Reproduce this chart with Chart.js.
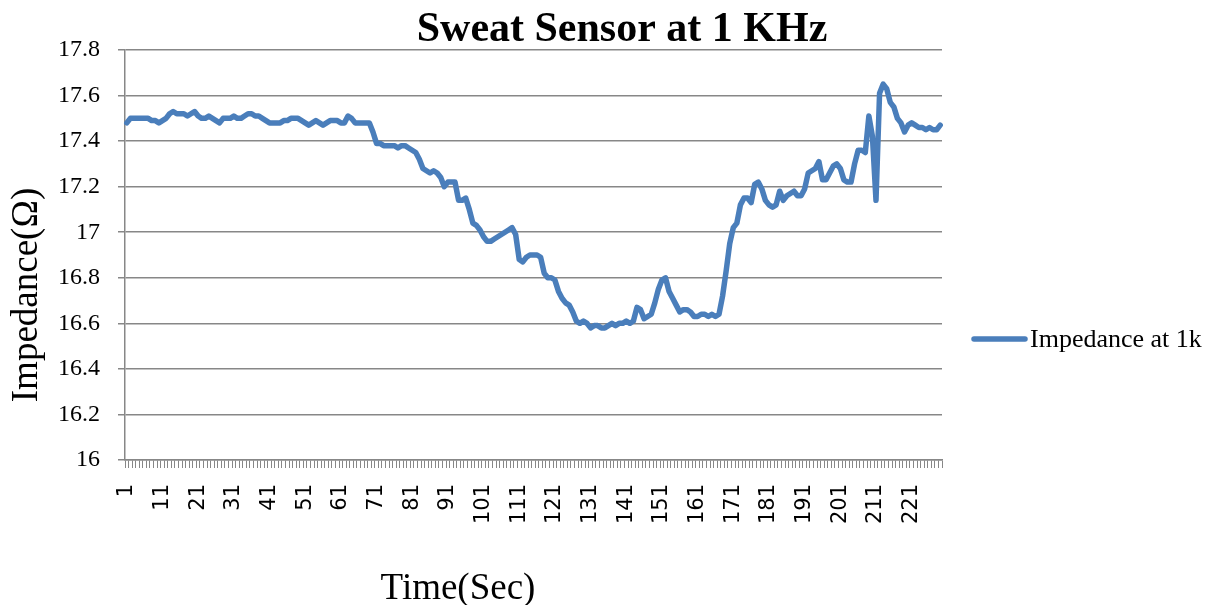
<!DOCTYPE html>
<html>
<head>
<meta charset="utf-8">
<script src="https://cdn.jsdelivr.net/npm/chart.js@4/dist/chart.umd.min.js"></script>
<style>
  html, body { margin: 0; padding: 0; background: #fff; }
  #wrap { width: 1217px; height: 605px; }
</style>
</head>
<body>
<div id="wrap"><canvas id="myChart" width="1217" height="605"></canvas></div>
<script>
// impedance readings, one per second
var impedance = [
  17.48,17.50,17.50,17.50,17.50,17.50,17.50,17.49,17.49,17.48,
  17.49,17.50,17.52,17.53,17.52,17.52,17.52,17.51,17.52,17.53,
  17.51,17.50,17.50,17.51,17.50,17.49,17.48,17.50,17.50,17.50,
  17.51,17.50,17.50,17.51,17.52,17.52,17.51,17.51,17.50,17.49,
  17.48,17.48,17.48,17.48,17.49,17.49,17.50,17.50,17.50,17.49,
  17.48,17.47,17.48,17.49,17.48,17.47,17.48,17.49,17.49,17.49,
  17.48,17.48,17.51,17.50,17.48,17.48,17.48,17.48,17.48,17.44,
  17.39,17.39,17.38,17.38,17.38,17.38,17.37,17.38,17.38,17.37,
  17.36,17.35,17.32,17.28,17.27,17.26,17.27,17.26,17.24,17.20,
  17.22,17.22,17.22,17.14,17.14,17.15,17.10,17.04,17.03,17.01,
  16.98,16.96,16.96,16.97,16.98,16.99,17.00,17.01,17.02,16.99,
  16.88,16.87,16.89,16.90,16.90,16.90,16.89,16.82,16.80,16.80,
  16.79,16.74,16.71,16.69,16.68,16.65,16.61,16.60,16.61,16.60,
  16.58,16.59,16.59,16.58,16.58,16.59,16.60,16.59,16.60,16.60,
  16.61,16.60,16.61,16.67,16.66,16.62,16.63,16.64,16.69,16.75,
  16.79,16.80,16.74,16.71,16.68,16.65,16.66,16.66,16.65,16.63,
  16.63,16.64,16.64,16.63,16.64,16.63,16.64,16.72,16.83,16.95,
  17.02,17.04,17.12,17.15,17.15,17.13,17.21,17.22,17.19,17.14,
  17.12,17.11,17.12,17.18,17.14,17.16,17.17,17.18,17.16,17.16,
  17.19,17.26,17.27,17.28,17.31,17.23,17.23,17.26,17.29,17.30,
  17.28,17.23,17.22,17.22,17.30,17.36,17.36,17.35,17.51,17.42,
  17.14,17.61,17.65,17.63,17.57,17.55,17.50,17.48,17.44,17.47,
  17.48,17.47,17.46,17.46,17.45,17.46,17.45,17.45,17.47
];
var seconds = impedance.map(function(v, i){ return String(i + 1); });
var shownTicks = ["1","11","21","31","41","51","61","71","81","91","101","111",
                  "121","131","141","151","161","171","181","191","201","211","221"];
var yTicks = [16, 16.2, 16.4, 16.6, 16.8, 17, 17.2, 17.4, 17.6, 17.8];

var serif = "'Liberation Serif', 'Times New Roman', serif";
var gridGray = "#878787";
var lineBlue = "#4a7ebb";

// titles and legend placed like the original
var extraText = {
  id: "extraText",
  afterDraw: function(chart) {
    var ctx = chart.ctx;
    var a = chart.chartArea;
    ctx.save();
    ctx.fillStyle = "#000";

    ctx.font = "bold 42px " + serif;
    ctx.textAlign = "center";
    ctx.textBaseline = "alphabetic";
    ctx.fillText("Sweat Sensor at 1 KHz", 622, 41);

    ctx.font = "37px " + serif;
    ctx.textBaseline = "middle";
    ctx.fillText("Time(Sec)", 458, 589);

    ctx.translate(27, 295);
    ctx.rotate(-Math.PI / 2);
    ctx.fillText("Impedance(\u03A9)", 0, 0);
    ctx.restore();

    ctx.save();
    ctx.strokeStyle = lineBlue;
    ctx.lineWidth = 5.5;
    ctx.lineCap = "round";
    ctx.beginPath();
    ctx.moveTo(a.right + 32, 339);
    ctx.lineTo(a.right + 83, 339);
    ctx.stroke();
    ctx.fillStyle = "#000";
    ctx.font = "26px " + serif;
    ctx.textAlign = "left";
    ctx.textBaseline = "middle";
    ctx.fillText("Impedance at 1k", a.right + 88, 340);
    ctx.restore();
  }
};

var ctx = document.getElementById("myChart");
var myLineChart = new Chart(ctx, {
  type: "line",
  data: {
    labels: seconds,
    datasets: [{
      label: "Impedance at 1k",
      data: impedance,
      borderColor: lineBlue,
      backgroundColor: lineBlue,
      borderWidth: 5.5,
      borderJoinStyle: "round",
      borderCapStyle: "round",
      pointRadius: 0,
      tension: 0,
      fill: false
    }]
  },
  options: {
    responsive: false,
    animation: false,
    layout: { padding: { left: 0, top: 50, right: 275, bottom: 0 } },
    plugins: {
      legend: { display: false },
      title: { display: false },
      tooltip: { enabled: false }
    },
    scales: {
      x: {
        type: "category",
        offset: true,
        grid: {
          offset: true,
          drawOnChartArea: false,
          drawTicks: true,
          tickLength: 8,
          color: gridGray,
          lineWidth: 1
        },
        border: { display: true, color: gridGray, width: 1.5 },
        ticks: {
          autoSkip: false,
          minRotation: 90,
          maxRotation: 90,
          padding: 16,
          color: "#000",
          font: { family: "'DejaVu Sans', sans-serif", size: 21 },
          callback: function(val, index) {
            var lab = this.getLabelForValue(val);
            return shownTicks.indexOf(lab) >= 0 ? lab : "";
          }
        },
        afterFit: function(scale) { scale.height = 145; }
      },
      y: {
        min: 16,
        max: 17.8,
        grid: {
          color: gridGray,
          lineWidth: 1.5,
          drawTicks: true,
          tickLength: 7
        },
        border: { display: true, color: gridGray, width: 1.5 },
        ticks: {
          padding: 18,
          color: "#000",
          font: { family: serif, size: 24 },
          callback: function(v) { return String(Number(v.toFixed(1))); }
        },
        afterBuildTicks: function(scale) {
          scale.ticks = yTicks.map(function(v){ return { value: v }; });
        },
        afterFit: function(scale) { scale.width = 125; }
      }
    }
  },
  plugins: [extraText]
});
</script>
</body>
</html>
